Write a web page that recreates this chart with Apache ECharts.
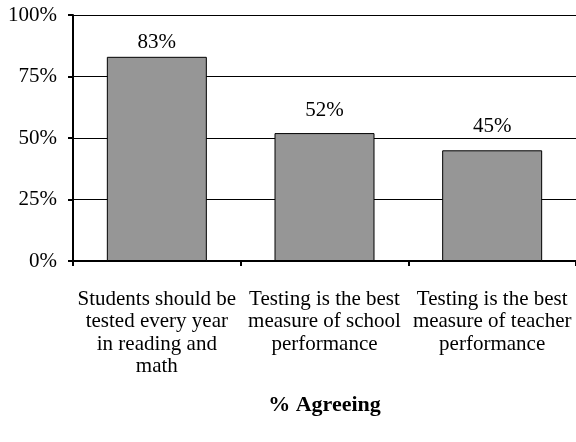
<!DOCTYPE html>
<html><head><meta charset="utf-8">
<script src="https://cdn.jsdelivr.net/npm/echarts@6/dist/echarts.min.js"></script>
<style>html,body{margin:0;padding:0;background:#fff}#c{width:576px;height:442px}</style>
</head><body><div id="c"></div>
<script>
const categories = [
  "Students should be\ntested every year\nin reading and\nmath",
  "Testing is the best\nmeasure of school\nperformance",
  "Testing is the best\nmeasure of teacher\nperformance"
];
const values = [83, 52, 45];
const axisName = "% Agreeing";
// label offsets above each bar (styling only)
const labelGaps = [4, 12, 13];
const font = "'Liberation Serif', 'Times New Roman', serif";
const chart = echarts.init(document.getElementById('c'), null, {renderer: 'canvas'});
chart.setOption({
  animation: false,
  grid: {left: 73, top: 15, width: 504, height: 246, containLabel: false},
  xAxis: {
    type: 'category', data: categories,
    name: axisName, nameLocation: 'middle', nameGap: 133,
    nameTextStyle: {fontFamily: font, fontSize: 22, fontWeight: 'bold', color: '#000'},
    axisLine: {lineStyle: {color: '#000', width: 2}},
    axisTick: {show: true, length: 5, lineStyle: {color: '#000', width: 2}},
    axisLabel: {interval: 0, fontFamily: font, fontSize: 21, color: '#000', lineHeight: 22.5, margin: 27}
  },
  yAxis: {
    type: 'value', min: 0, max: 100, interval: 25,
    axisLine: {show: true, lineStyle: {color: '#000', width: 2}},
    axisTick: {show: true, length: 5, lineStyle: {color: '#000', width: 2}},
    splitLine: {show: true, lineStyle: {color: '#000', width: 1}},
    axisLabel: {formatter: '{value}%', fontFamily: font, fontSize: 21, color: '#000', margin: 16}
  },
  series: [{
    type: 'bar',
    data: values.map((v, i) => ({value: v, label: {distance: labelGaps[i]}})),
    barWidth: 100,
    itemStyle: {color: '#969696', borderColor: '#000', borderWidth: 1},
    label: {show: true, position: 'top', formatter: '{c}%', fontFamily: font, fontSize: 21, color: '#000'}
  }]
});
</script></body></html>
